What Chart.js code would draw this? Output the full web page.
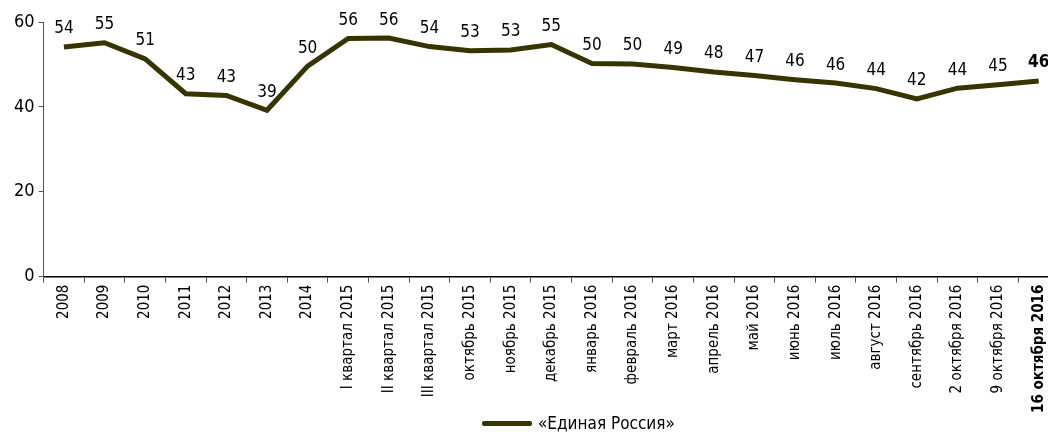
<!DOCTYPE html>
<html>
<head>
<meta charset="utf-8">
<script src="https://cdn.jsdelivr.net/npm/chart.js@4"></script>
<style>
    html, body { margin: 0; padding: 0; background: #fff; overflow: hidden; }
    #wrap { position: relative; width: 1172px; height: 436px; }
    #legend {
        position: absolute; left: 482px; top: 413px;
        font: 17px 'DejaVu Sans Condensed', 'Open Sans', sans-serif; color: #000;
        display: flex; align-items: center; white-space: nowrap;
    }
    #legend .swatch { display: inline-block; width: 50px; height: 5px; border-radius: 2px; margin-right: 6px; }
</style>
</head>
<body>
<div id="wrap">
    <canvas id="partyChart" width="1172" height="436"></canvas>
    <div id="legend"></div>
</div>
<script>
const categories = [
    '2008', '2009', '2010', '2011', '2012', '2013', '2014',
    'I квартал 2015', 'II квартал 2015', 'III квартал 2015',
    'октябрь 2015', 'ноябрь 2015', 'декабрь 2015',
    'январь 2016', 'февраль 2016', 'март 2016', 'апрель 2016', 'май 2016',
    'июнь 2016', 'июль 2016', 'август 2016', 'сентябрь 2016',
    '2 октября 2016', '9 октября 2016', '16 октября 2016'
];

const unitedRussia = [
    54.1, 55.1, 51.3, 43.1, 42.7, 39.2, 49.6,
    56.1, 56.2, 54.2,
    53.2, 53.4, 54.7,
    50.2, 50.1, 49.3, 48.2, 47.4,
    46.4, 45.6, 44.3, 41.9,
    44.4, 45.2, 46.1
];

const yTicks = [0, 20, 40, 60];
const seriesName = '«Единая Россия»';

const FONT = "'DejaVu Sans Condensed', 'Open Sans', sans-serif";
const LINE_COLOR = '#363400';
const lastIndex = categories.length - 1;

// draw the rounded value above each point
const valueLabels = {
    id: 'valueLabels',
    afterDatasetsDraw(chart)
    {
        const ctx = chart.ctx;
        const meta = chart.getDatasetMeta(0);
        ctx.save();
        ctx.fillStyle = '#000';
        ctx.textAlign = 'center';
        ctx.textBaseline = 'middle';
        meta.data.forEach((pt, i) =>
        {
            ctx.font = (i === lastIndex ? 'bold ' : '') + '17px ' + FONT;
            ctx.fillText(Math.round(unitedRussia[i]), pt.x, pt.y - 18);
        });
        ctx.restore();
    }
};

new Chart(document.getElementById('partyChart').getContext('2d'), {
    type: 'line',
    data: {
        labels: categories,
        datasets: [{
            label: seriesName,
            data: unitedRussia,
            borderColor: LINE_COLOR,
            backgroundColor: LINE_COLOR,
            borderWidth: 5,
            pointRadius: 0,
            tension: 0
        }]
    },
    options: {
        responsive: false,
        animation: false,
        layout: {padding: {top: 22, right: 113, left: 10, bottom: 21}},
        plugins: {
            legend: {display: false},
            tooltip: {enabled: false}
        },
        scales: {
            x: {
                offset: true,
                grid: {display: true, drawOnChartArea: false, drawTicks: true, tickLength: 6, color: '#555', offset: true},
                border: {display: true, color: '#000', width: 1.5},
                ticks: {
                    autoSkip: false,
                    maxRotation: 90,
                    minRotation: 90,
                    color: '#000',
                    padding: 2,
                    font: ctx => ({family: FONT, size: 15, weight: ctx.index === lastIndex ? 'bold' : 'normal'})
                }
            },
            y: {
                min: 0,
                max: 60,
                afterBuildTicks: axis => { axis.ticks = yTicks.map(v => ({value: v})); },
                grid: {display: true, drawOnChartArea: false, drawTicks: true, tickLength: 5, color: '#555'},
                border: {display: true, color: '#555', width: 1},
                ticks: {color: '#000', padding: 4, font: {family: FONT, size: 18}}
            }
        }
    },
    plugins: [valueLabels]
});

// legend below the chart
const legend = document.getElementById('legend');
const swatch = document.createElement('span');
swatch.className = 'swatch';
swatch.style.background = LINE_COLOR;
legend.appendChild(swatch);
legend.appendChild(document.createTextNode(seriesName));
</script>
</body>
</html>
